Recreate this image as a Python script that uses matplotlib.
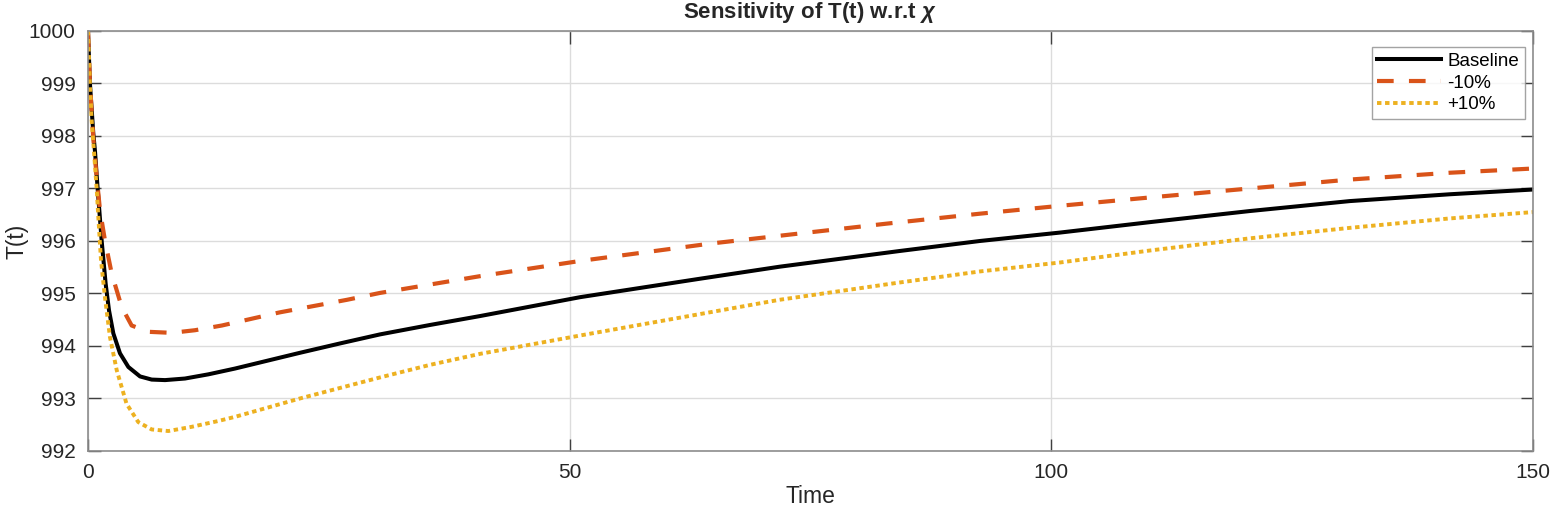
import numpy as np
import matplotlib.pyplot as plt

plt.rcParams['font.family'] = ['Liberation Sans', 'DejaVu Sans']
plt.rcParams['mathtext.fontset'] = 'custom'
plt.rcParams['mathtext.bf'] = 'Liberation Sans:bold:italic'
plt.rcParams['lines.scale_dashes'] = False

# values
t_base = [0, 0.2, 0.55, 0.73, 1.0, 1.42, 1.83, 2.18, 2.63, 3.32, 4.19, 5.4, 6.61, 8.0, 10.07,
          12.5, 15.26, 22.0, 26.2, 30.3, 35.5, 40.7, 51.1, 63.5, 71.8, 84.3, 92.6, 100.9, 110.3,
          120.6, 131.0, 141.4, 150]
T_base = [1000, 999.0, 998.05, 997.7, 997.0, 996.0, 995.19, 994.68, 994.24, 993.86, 993.60,
          993.42, 993.36, 993.35, 993.38, 993.46, 993.57, 993.87, 994.05, 994.22, 994.40,
          994.57, 994.93, 995.28, 995.51, 995.81, 996.0, 996.16, 996.36, 996.57, 996.76,
          996.89, 996.98]

t_minus = [0, 0.2, 0.55, 0.9, 1.25, 1.76, 2.46, 3.5, 4.53, 6.26, 8.69, 11.1, 13.9, 19.9, 26.9,
           30.3, 40.7, 51.1, 64.6, 82.9, 92.6, 100.9, 110.3, 120.6, 131.0, 141.4, 150]
T_minus = [1000, 999.0, 997.95, 997.22, 996.58, 996.01, 995.38, 994.74, 994.39, 994.27, 994.25,
           994.30, 994.39, 994.64, 994.88, 995.01, 995.33, 995.62, 995.95, 996.33, 996.52,
           996.67, 996.83, 997.00, 997.17, 997.30, 997.38]

t_plus = [0, 0.2, 0.38, 0.9, 1.07, 1.35, 1.76, 2.28, 2.98, 4.0, 5.22, 6.61, 8.34, 10.76, 13.5,
          15.26, 22.0, 30.3, 35.5, 40.7, 51.1, 63.9, 71.8, 83.9, 92.6, 100.9, 110.3, 120.6,
          131.0, 141.4, 150]
T_plus = [1000, 999.0, 998.3, 997.0, 996.46, 995.63, 994.93, 994.17, 993.54, 992.90, 992.55,
          992.41, 992.38, 992.46, 992.57, 992.65, 993.0, 993.40, 993.64, 993.85, 994.20,
          994.62, 994.88, 995.20, 995.42, 995.59, 995.82, 996.05, 996.25, 996.43, 996.55]

labels = ['Baseline', '-10%', '+10%']

fig = plt.figure(figsize=(15.52, 5.07), dpi=100)
ax = fig.add_axes([0.0567, 0.1105, 0.931, 0.8284])

ax.plot(t_base, T_base, color='black', lw=2.9, label=labels[0])
ax.plot(t_minus, T_minus, color='#D95319', lw=3.0, dashes=(12, 11), label=labels[1])
ax.plot(t_plus, T_plus, color='#EDB120', lw=2.8, dashes=(3.2, 2.6), label=labels[2])

ax.set_xlim(0, 150)
ax.set_ylim(992, 1000)
ax.set_xticks([0, 50, 100, 150])
ax.set_yticks(np.arange(992, 1001, 1))
ax.grid(True, color='#dcdcdc', lw=1)
ax.set_axisbelow(True)
ax.tick_params(direction='in', length=9, width=1, color='#404040', labelsize=15,
               labelcolor='#262626', top=True, right=True, pad=9)
for s in ax.spines.values():
    s.set_color('#8c8c8c')
    s.set_linewidth(1.2)

ax.set_xlabel('Time', fontsize=16.5, color='#262626', labelpad=2)
ax.set_ylabel('T(t)', fontsize=16.5, color='#262626')
ax.yaxis.set_label_coords(-0.041, 0.5)
ax.set_title(r'Sensitivity of T(t) w.r.t $\mathbf{\chi}$', fontsize=16, fontweight='bold',
             color='#262626', pad=9)

leg = ax.legend(loc='upper right', bbox_to_anchor=(0.9945, 0.962), fontsize=13.5,
                frameon=True, fancybox=False, handlelength=3.4, handletextpad=0.35,
                borderpad=0.3, labelspacing=0.25, borderaxespad=0)
leg.get_frame().set_edgecolor('#8c8c8c')
leg.get_frame().set_linewidth(1.0)

fig.savefig('out.png', dpi=100)
